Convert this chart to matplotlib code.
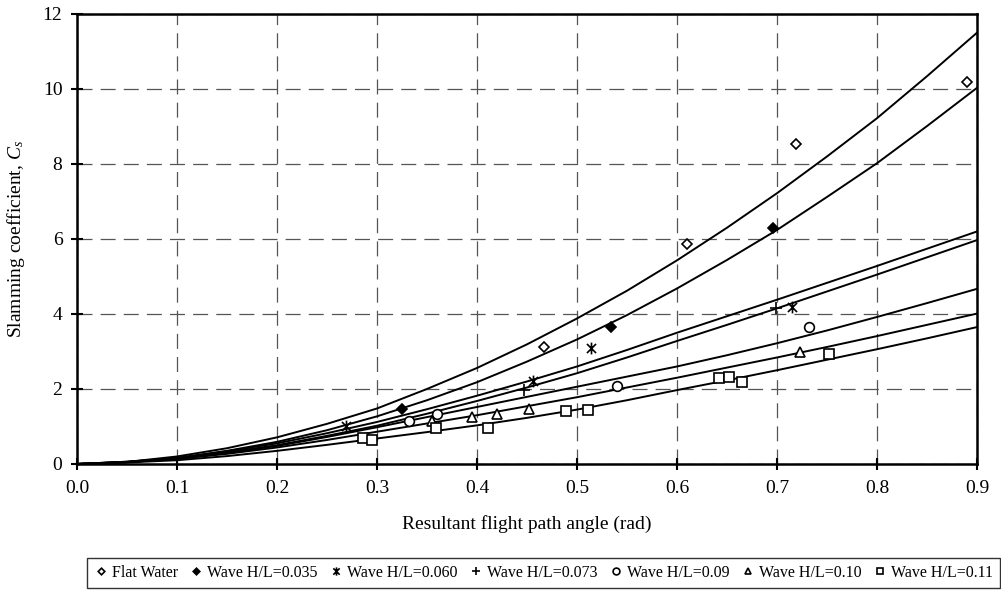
import matplotlib
matplotlib.use("Agg")
import matplotlib.pyplot as plt
from matplotlib.path import Path

plt.rcParams["font.family"] = ["Liberation Serif", "DejaVu Serif"]
plt.rcParams["mathtext.fontset"] = "custom"
plt.rcParams["mathtext.rm"] = "Liberation Serif"
plt.rcParams["mathtext.it"] = "Liberation Serif:italic"

# ── measured points (resultant flight path angle [rad], slamming coefficient) ──
flat_x = [0.467, 0.610, 0.719, 0.890]
flat_y = [3.11, 5.86, 8.53, 10.19]
w035_x = [0.325, 0.534, 0.696]
w035_y = [1.47, 3.66, 6.28]
w060_x = [0.269, 0.456, 0.514, 0.715]
w060_y = [1.02, 2.21, 3.08, 4.18]
w073_x = [0.447, 0.699]
w073_y = [1.97, 4.15]
w09_x = [0.332, 0.360, 0.540, 0.732]
w09_y = [1.15, 1.33, 2.09, 3.65]
w10_x = [0.355, 0.395, 0.420, 0.452, 0.723]
w10_y = [1.14, 1.25, 1.34, 1.47, 2.99]
w11_x = [0.286, 0.295, 0.359, 0.411, 0.489, 0.511, 0.642, 0.652, 0.665, 0.752]
w11_y = [0.68, 0.64, 0.97, 0.97, 1.42, 1.44, 2.30, 2.31, 2.18, 2.93]

# ── fitted curves, every 0.05 rad ──
fit_x = [0.0, 0.05, 0.1, 0.15, 0.2, 0.25, 0.3, 0.35, 0.4, 0.45,
         0.5, 0.55, 0.6, 0.65, 0.7, 0.75, 0.8, 0.85, 0.9]
fit_flat = [0, 0.055, 0.20, 0.42, 0.71, 1.07, 1.48, 2.00, 2.56, 3.19,
            3.88, 4.62, 5.43, 6.30, 7.22, 8.20, 9.22, 10.34, 11.50]
fit_035 = [0, 0.044, 0.16, 0.35, 0.59, 0.90, 1.27, 1.70, 2.18, 2.73,
           3.32, 3.97, 4.68, 5.44, 6.24, 7.12, 8.02, 9.01, 10.03]
fit_060 = [0, 0.06, 0.16, 0.34, 0.55, 0.82, 1.12, 1.46, 1.82, 2.20,
           2.60, 3.04, 3.50, 3.94, 4.38, 4.83, 5.28, 5.74, 6.20]
fit_073 = [0, 0.06, 0.15, 0.31, 0.50, 0.75, 1.02, 1.34, 1.68, 2.04,
           2.42, 2.84, 3.28, 3.71, 4.15, 4.60, 5.05, 5.51, 5.97]
fit_09 = [0, 0.05, 0.14, 0.30, 0.48, 0.72, 0.98, 1.25, 1.52, 1.79,
          2.06, 2.33, 2.60, 2.90, 3.22, 3.56, 3.92, 4.29, 4.67]
fit_10 = [0, 0.05, 0.13, 0.27, 0.44, 0.64, 0.86, 1.08, 1.30, 1.54,
          1.78, 2.04, 2.30, 2.57, 2.84, 3.12, 3.41, 3.71, 4.01]
fit_11 = [0, 0.04, 0.10, 0.21, 0.35, 0.51, 0.68, 0.85, 1.03, 1.23,
          1.45, 1.70, 1.97, 2.23, 2.50, 2.78, 3.06, 3.35, 3.65]

x_ticks = [0.0, 0.1, 0.2, 0.3, 0.4, 0.5, 0.6, 0.7, 0.8, 0.9]
y_ticks = [0, 2, 4, 6, 8, 10, 12]

# asterisk-like marker (x with a vertical bar), as in the spreadsheet original
STAR = Path([(-1, -1), (1, 1), (-1, 1), (1, -1), (0, -1.3), (0, 1.3)],
            [Path.MOVETO, Path.LINETO] * 3)

fig = plt.figure(figsize=(10.01, 5.90), dpi=100)
ax = fig.add_axes([0.0769, 0.2136, 0.8991, 0.7627])

for fy in [fit_flat, fit_035, fit_060, fit_073, fit_09, fit_10, fit_11]:
    ax.plot(fit_x, fy, color="black", lw=1.4, zorder=3)

series = [
    (flat_x, flat_y, "D", 4.8, "white", "Flat Water"),
    (w035_x, w035_y, "D", 4.8, "black", "Wave H/L=0.035"),
    (w060_x, w060_y, STAR, 8.5, "none", "Wave H/L=0.060"),
    (w073_x, w073_y, "+", 8, "none", "Wave H/L=0.073"),
    (w09_x, w09_y, "o", 7, "white", "Wave H/L=0.09"),
    (w10_x, w10_y, "^", 6.5, "white", "Wave H/L=0.10"),
    (w11_x, w11_y, "s", 6.5, "white", "Wave H/L=0.11"),
]
handles = []
for sx, sy, mk, ms, fc, lab in series:
    h, = ax.plot(sx, sy, ls="none", marker=mk, ms=ms, mfc=fc, mec="black",
                 mew=1.2, label=lab, zorder=4)
    handles.append(h)

ax.set_xlim(0, 0.9)
ax.set_ylim(0, 12)
ax.set_xticks(x_ticks)
ax.set_xticklabels([f"{v:.1f}" for v in x_ticks])
ax.set_yticks(y_ticks)
ax.grid(True, color="#555555", linestyle=(0, (12, 6.5)), linewidth=0.9)
ax.set_axisbelow(True)
for sp in ax.spines.values():
    sp.set_linewidth(1.8)
ax.tick_params(direction="inout", length=9, width=1.5, labelsize=14)
ax.tick_params(axis="y", pad=6)
ax.tick_params(axis="x", pad=7)

ax.set_xlabel("Resultant flight path angle (rad)", fontsize=14, labelpad=13)
ax.set_ylabel("Slamming coefficient, $C_s$", fontsize=14, labelpad=11)

leg = fig.legend(handles=handles, loc="lower left", ncol=7, mode="expand",
                 bbox_to_anchor=(87 / 1001, 2 / 590, 913 / 1001, 29 / 590),
                 borderaxespad=0, fontsize=11.5, frameon=True, fancybox=False,
                 handlelength=0.8, handletextpad=0.3, columnspacing=0.5,
                 borderpad=0.45, markerscale=0.7)
leg.get_frame().set_edgecolor("black")
leg.get_frame().set_linewidth(1.0)

fig.savefig("out.png", dpi=100)
